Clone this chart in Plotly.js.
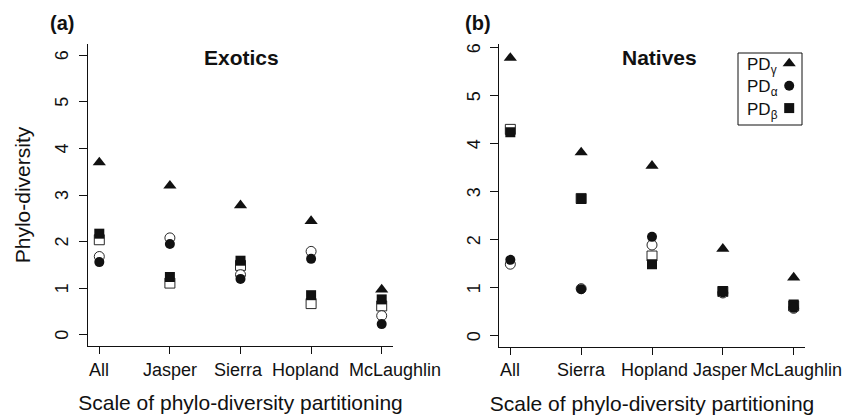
<!DOCTYPE html>
<html>
<head>
<meta charset="utf-8">
<script src="https://cdn.plot.ly/plotly-3.0.1.min.js"></script>
<style>
  html, body { margin: 0; padding: 0; background: #ffffff; }
  #chart { width: 849px; height: 416px; }
</style>
</head>
<body>
<div id="chart"></div>
<script>
// ---- Data ----
const catsA = ['All', 'Jasper', 'Sierra', 'Hopland', 'McLaughlin'];
const gammaA = [3.70, 3.20, 2.78, 2.44, 0.97];
const alphaA = [1.56, 1.95, 1.20, 1.63, 0.23];
const betaA = [2.17, 1.24, 1.59, 0.85, 0.76];
const alphaNullA = [1.68, 2.08, 1.29, 1.79, 0.41];
const betaNullA = [2.04, 1.11, 1.49, 0.67, 0.62];

const catsB = ['All', 'Sierra', 'Hopland', 'Jasper', 'McLaughlin'];
const gammaB = [5.79, 3.82, 3.54, 1.81, 1.21];
const alphaB = [1.58, 0.97, 2.06, 0.90, 0.58];
const betaB = [4.24, 2.85, 1.49, 0.93, 0.65];
const alphaNullB = [1.49, 0.98, 1.89, 0.89, 0.57];
const betaNullB = [4.30, 2.86, 1.66, 0.92, 0.62];

const yTicks = [0, 1, 2, 3, 4, 5, 6];
const legendLabels = ['PD<sub>γ</sub>', 'PD<sub>α</sub>', 'PD<sub>β</sub>'];
const legendSymbols = ['triangle-up', 'circle', 'square'];

// ---- Styling ----
const FONT = 'Liberation Sans, Arial, Helvetica, sans-serif';
const INK = '#111111';
const W = 849, H = 416;
const px = v => v / W;
const py = v => 1 - v / H;
// small horizontal nudges of the category labels, as in the reference
const labelShiftA = [0, 0, -2, -6, 13];
const labelShiftB = [0, 0, 2, -3, 2];

function openTrace(x, y, sym, xa, ya) {
  return { x: x, y: y, xaxis: xa, yaxis: ya, type: 'scatter', mode: 'markers',
    marker: { symbol: sym, size: 10, color: '#ffffff', line: { color: INK, width: 0.9 } },
    hoverinfo: 'x+y', showlegend: false };
}
function fillTrace(x, y, sym, size, xa, ya) {
  return { x: x, y: y, xaxis: xa, yaxis: ya, type: 'scatter', mode: 'markers',
    marker: { symbol: sym, size: size, color: INK, line: { width: 0 } },
    hoverinfo: 'x+y', showlegend: false };
}

const traces = [
  openTrace(catsA, betaNullA, 'square', 'x', 'y'),
  openTrace(catsA, alphaNullA, 'circle', 'x', 'y'),
  fillTrace(catsA, gammaA, 'triangle-up', 11.5, 'x', 'y'),
  fillTrace(catsA, betaA, 'square', 10, 'x', 'y'),
  fillTrace(catsA, alphaA, 'circle', 10, 'x', 'y'),

  openTrace(catsB, betaNullB, 'square', 'x2', 'y2'),
  openTrace(catsB, alphaNullB, 'circle', 'x2', 'y2'),
  fillTrace(catsB, gammaB, 'triangle-up', 11.5, 'x2', 'y2'),
  fillTrace(catsB, betaB, 'square', 10, 'x2', 'y2'),
  fillTrace(catsB, alphaB, 'circle', 10, 'x2', 'y2'),

  // legend key symbols, drawn in a small hidden axis that spans the legend box
  { x: legendSymbols.map(() => 0.80), y: legendSymbols.map((s, i) => 0.855 - i * 0.31),
    xaxis: 'x3', yaxis: 'y3', type: 'scatter', mode: 'markers', hoverinfo: 'skip', showlegend: false,
    marker: { symbol: legendSymbols, size: [11.5, 10, 10], color: INK, opacity: 1, line: { width: 0 } } }
];

function xAxis(domain, cats, anchor) {
  return {
    domain: domain, anchor: anchor, type: 'category', categoryorder: 'array', categoryarray: cats,
    range: [-0.16, 4.16], showgrid: false, zeroline: false,
    showline: true, linecolor: INK, linewidth: 1,
    ticks: 'outside', ticklen: 7, tickwidth: 1, tickcolor: INK,
    showticklabels: false,
    title: { text: 'Scale of phylo-diversity partitioning', font: { family: FONT, size: 21, color: INK }, standoff: 42 },
    fixedrange: true
  };
}
function yAxis(domain, range, anchor, withTitle) {
  const a = {
    domain: domain, range: range, anchor: anchor, showgrid: false, zeroline: false,
    showline: true, linecolor: INK, linewidth: 1,
    ticks: 'outside', ticklen: 8, tickwidth: 1, tickcolor: INK,
    tickvals: yTicks, showticklabels: false,
    fixedrange: true
  };
  if (withTitle) {
    a.title = { text: 'Phylo-diversity', font: { family: FONT, size: 21, color: INK }, standoff: 42 };
  }
  return a;
}

const annotations = [
  { text: '<b>(a)</b>', x: px(62), y: py(23), xref: 'paper', yref: 'paper', showarrow: false,
    xanchor: 'center', yanchor: 'middle', font: { family: FONT, size: 20, color: INK } },
  { text: '<b>(b)</b>', x: px(478), y: py(23), xref: 'paper', yref: 'paper', showarrow: false,
    xanchor: 'center', yanchor: 'middle', font: { family: FONT, size: 20, color: INK } },
  { text: '<b>Exotics</b>', x: px(241.5), y: py(57), xref: 'paper', yref: 'paper', showarrow: false,
    xanchor: 'center', yanchor: 'middle', font: { family: FONT, size: 21, color: INK } },
  { text: '<b>Natives</b>', x: px(659), y: py(57), xref: 'paper', yref: 'paper', showarrow: false,
    xanchor: 'center', yanchor: 'middle', font: { family: FONT, size: 21, color: INK } }
];
// rotated y tick labels (read bottom-to-top, as in the reference)
[['y', 62], ['y2', 473.5]].forEach(([yr, xc]) => {
  yTicks.forEach(v => {
    annotations.push({ text: String(v), x: px(xc), y: v, xref: 'paper', yref: yr, showarrow: false,
      textangle: -90, xanchor: 'center', yanchor: 'middle', font: { family: FONT, size: 18, color: INK } });
  });
});
// category tick labels
[['x', catsA, labelShiftA], ['x2', catsB, labelShiftB]].forEach(([xr, cats, shifts]) => {
  cats.forEach((c, i) => {
    annotations.push({ text: c, x: c, y: py(370), xref: xr, yref: 'paper', showarrow: false,
      xshift: shifts[i], xanchor: 'center', yanchor: 'middle', font: { family: FONT, size: 18, color: INK } });
  });
});
legendLabels.forEach((t, i) => {
  annotations.push({ text: t, x: px(745), y: py(66 + i * 22.5), xref: 'paper', yref: 'paper',
    showarrow: false, xanchor: 'left', yanchor: 'middle', font: { family: FONT, size: 17, color: INK } });
});

const layout = {
  width: W, height: H,
  margin: { l: 0, r: 0, t: 0, b: 0, pad: 0 },
  paper_bgcolor: '#ffffff', plot_bgcolor: 'rgba(0,0,0,0)',
  showlegend: false,
  xaxis: xAxis([px(88), px(393)], catsA, 'y'),
  yaxis: yAxis([py(346), py(44)], [-0.24, 6.24], 'x', true),
  xaxis2: xAxis([px(499), px(805)], catsB, 'y2'),
  yaxis2: yAxis([py(346.7), py(44)], [-0.23, 6.08], 'x2', false),
  xaxis3: { domain: [px(738), px(802)], range: [0, 1], visible: false, fixedrange: true, anchor: 'y3' },
  yaxis3: { domain: [py(125), py(53)], range: [0, 1], visible: false, fixedrange: true, anchor: 'x3' },
  shapes: [
    { type: 'rect', xref: 'paper', yref: 'paper', layer: 'below', x0: px(738), x1: px(802), y0: py(125), y1: py(53),
      line: { color: INK, width: 1 }, fillcolor: 'rgba(0,0,0,0)' }
  ],
  annotations: annotations
};

Plotly.newPlot('chart', traces, layout, { displayModeBar: false, staticPlot: true });
</script>
</body>
</html>
